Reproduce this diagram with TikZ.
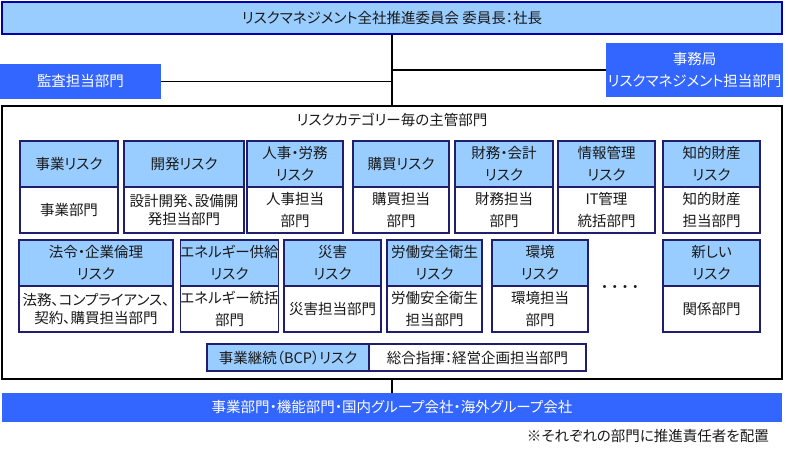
\documentclass[tikz,border=0pt]{standalone}
\usepackage{fontspec}
\setmainfont{Noto Sans CJK JP}[RawFeature=+palt]
\definecolor{riskblue}{RGB}{153,204,255}
\definecolor{deptblue}{RGB}{51,102,255}
\definecolor{navyline}{RGB}{31,31,110}
\definecolor{boardline}{RGB}{0,0,170}
\definecolor{txt}{RGB}{25,25,25}

\begin{document}
\begin{tikzpicture}[x=1pt,y=-1pt,font=\fontsize{14.5}{22}\selectfont,text=txt,
  every node/.style={inner sep=0pt,align=center},
  hd/.style={draw=navyline,line width=1.2pt,fill=riskblue,minimum height=46pt},
  bd/.style={draw=navyline,line width=1.2pt,fill=white,minimum height=46pt},
  tight/.style={font=\fontsize{14.5}{18}\selectfont},
  dept/.style={fill=deptblue,text=white},
  link/.style={line width=1.6pt}]
\useasboundingbox (0,0) rectangle (788,454);

\node[draw=boardline,line width=1.8pt,fill=riskblue,minimum width=780pt,minimum height=32pt] (board) at (392,18) {リスクマネジメント全社推進委員会\ 委員長：社長};
\node[dept,minimum width=161pt,minimum height=35pt] (audit) at (80.5,81.5) {監査担当部門};
\node[dept,minimum width=177pt,minimum height=54pt] (office) at (694.5,70) {事務局\\リスクマネジメント担当部門};
\node[draw=black,line width=1.2pt,minimum width=780pt,minimum height=273pt] (owner) at (392,242.5) {};
\node (ownertitle) at (392,120) {リスクカテゴリー毎の主管部門};

\node[hd,minimum width=98pt] (h1) at (69,164) {事業リスク};
\node[bd,minimum width=98pt] (b1) at (69,210) {事業部門};
\node[hd,minimum width=120pt] (h2) at (184,164) {開発リスク};
\node[bd,tight,minimum width=120pt] (b2) at (184,210) {設計開発、設備開\\発担当部門};
\node[hd,minimum width=96pt] (h3) at (295,164) {人事・労務\\リスク};
\node[bd,minimum width=96pt] (b3) at (295,210) {人事担当\\部門};
\node[hd,minimum width=96pt] (h4) at (401,164) {購買リスク};
\node[bd,minimum width=96pt] (b4) at (401,210) {購買担当\\部門};
\node[hd,minimum width=98pt] (h5) at (504,164) {財務・会計\\リスク};
\node[bd,minimum width=98pt] (b5) at (504,210) {財務担当\\部門};
\node[hd,minimum width=97pt] (h6) at (606.5,164) {情報管理\\リスク};
\node[bd,minimum width=97pt] (b6) at (606.5,210) {IT管理\\統括部門};
\node[hd,minimum width=97pt] (h7) at (711.5,164) {知的財産\\リスク};
\node[bd,minimum width=97pt] (b7) at (711.5,210) {知的財産\\担当部門};

\node[hd,minimum width=154pt] (h8) at (96,263) {法令・企業倫理\\リスク};
\node[bd,tight,minimum width=154pt] (b8) at (96,309) {法務、コンプライアンス、\\契約、購買担当部門};
\node[hd,minimum width=97pt] (h9) at (229.5,263) {エネルギー供給\\リスク};
\node[bd,minimum width=97pt] (b9) at (229.5,309) {エネルギー統括\\部門};
\node[hd,minimum width=97pt] (h10) at (332.5,263) {災害\\リスク};
\node[bd,minimum width=97pt] (b10) at (332.5,309) {災害担当部門};
\node[hd,minimum width=95pt] (h11) at (434.5,263) {労働安全衛生\\リスク};
\node[bd,minimum width=95pt] (b11) at (434.5,309) {労働安全衛生\\担当部門};
\node[hd,minimum width=96pt] (h12) at (540,263) {環境\\リスク};
\node[bd,minimum width=96pt] (b12) at (540,309) {環境担当\\部門};
\node (more) at (620,289) {・\kern3pt・\kern3pt・\kern3pt・};
\node[hd,minimum width=97pt] (h13) at (711.5,263) {新しい\\リスク};
\node[bd,minimum width=97pt] (b13) at (711.5,309) {関係部門};

\node[hd,minimum width=162pt,minimum height=27pt] (bcp) at (288,357.5) {事業継続（BCP）リスク};
\node[bd,minimum width=217pt,minimum height=27pt] (bcpdept) at (477.5,357.5) {総合指揮：経営企画担当部門};

\node[dept,minimum width=780pt,minimum height=29pt] (units) at (392,407.5) {事業部門・機能部門・国内グループ会社・海外グループ会社};
\node[anchor=east] (note) at (769,436) {※それぞれの部門に推進責任者を配置};

\draw[link] (board.south) -- (owner.north);
\draw[link] (audit.east) -- (audit.east -| board.south);
\draw[link] (office.west) -- (office.west -| board.south);
\draw[link] (owner.south) -- (units.north);
\end{tikzpicture}
\end{document}
